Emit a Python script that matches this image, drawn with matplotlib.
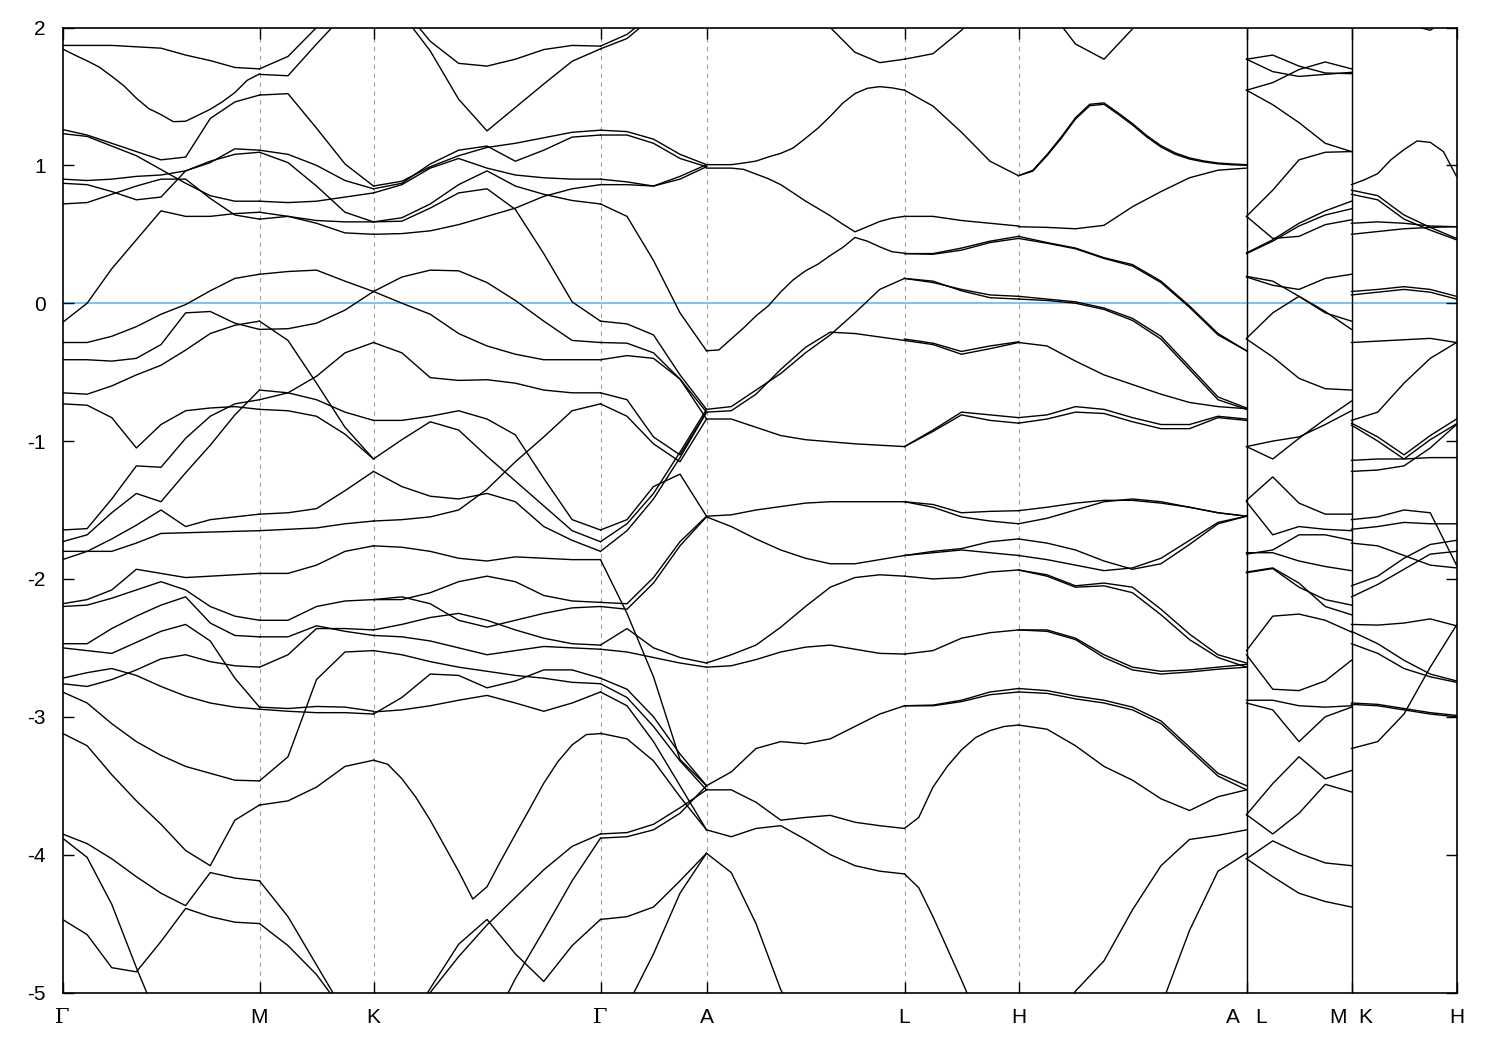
import numpy as np
import matplotlib
matplotlib.use("Agg")
import matplotlib.pyplot as plt

nan = np.nan

# high-symmetry points along the k-path (path distance units) and their labels
kpath = [0, 197, 311, 538, 644, 842, 956, 1184, 1289, 1394]
klabels = ["Γ", "M", "K", "Γ", "A", "L", "H", "A   L", "M  K", "H"]
breaks = [1184, 1289]   # discontinuities in the path

# band energies (eV), each band sampled evenly along its segment
gamma_m = [
    [1.87, 1.87, 1.87, 1.86, 1.85, 1.80, 1.76, 1.71, 1.70],
    [1.845, 1.80, 1.758, 1.712, 1.646, 1.576, 1.487, 1.412, 1.368,
     1.317, 1.32, 1.363, 1.407, 1.462, 1.528, 1.617, 1.663],
    [1.26, 1.22, 1.16, 1.10, 1.04, 1.06, 1.34, 1.46, 1.51],
    [1.23, 1.21, 1.14, 1.07, 0.97, 0.87, 0.78, 0.74, 0.74],
    [0.90, 0.89, 0.90, 0.92, 0.93, 0.96, 1.02, 1.12, 1.11],
    [0.87, 0.86, 0.81, 0.75, 0.77, 0.96, 1.03, 1.08, 1.095],
    [0.72, 0.73, 0.79, 0.85, 0.90, 0.90, 0.76, 0.64, 0.61],
    [-0.14, 0.00, 0.25, 0.46, 0.67, 0.63, 0.63, 0.65, 0.66],
    [-0.285, -0.285, -0.24, -0.17, -0.08, -0.01, 0.09, 0.18, 0.21],
    [-0.41, -0.41, -0.42, -0.40, -0.30, -0.07, -0.06, -0.145, -0.19],
    [-0.65, -0.66, -0.60, -0.52, -0.45, -0.34, -0.22, -0.16, -0.13],
    [-0.73, -0.74, -0.83, -1.05, -0.88, -0.78, -0.76, -0.75, -0.77],
    [-1.645, -1.635, -1.42, -1.18, -1.19, -0.98, -0.82, -0.73, -0.70],
    [-1.73, -1.68, -1.52, -1.38, -1.44, -1.23, -1.03, -0.81, -0.63],
    [-1.80, -1.80, -1.80, -1.74, -1.67, -1.665, -1.66, -1.655, -1.65],
    [-1.86, -1.80, -1.71, -1.61, -1.50, -1.62, -1.57, -1.55, -1.53],
    [-2.18, -2.15, -2.08, -1.93, -1.96, -1.99, -1.98, -1.97, -1.96],
    [-2.20, -2.19, -2.14, -2.08, -2.02, -2.08, -2.20, -2.27, -2.30],
    [-2.47, -2.47, -2.36, -2.27, -2.19, -2.13, -2.32, -2.41, -2.42],
    [-2.50, -2.52, -2.54, -2.46, -2.38, -2.33, -2.45, -2.72, -2.93],
    [-2.72, -2.68, -2.65, -2.70, -2.78, -2.85, -2.90, -2.93, -2.945],
    [-2.76, -2.78, -2.73, -2.66, -2.58, -2.55, -2.60, -2.63, -2.64],
    [-2.82, -2.90, -3.05, -3.18, -3.28, -3.36, -3.41, -3.46, -3.465],
    [-3.12, -3.21, -3.42, -3.61, -3.78, -3.97, -4.08, -3.75, -3.64],
    [-3.85, -3.92, -4.03, -4.16, -4.28, -4.37, -4.13, -4.17, -4.19],
    [-3.88, -4.02, -4.36, -4.82, -5.25, -5.6, nan, nan, nan],
    [-4.47, -4.58, -4.82, -4.85, -4.63, -4.39, -4.45, -4.49, -4.50],
]

m_k = [
    [1.70, 1.79, 2.00, 2.20, 2.35],
    [1.66, 1.65, 1.88, 2.10, 2.30],
    [1.51, 1.52, 1.27, 1.01, 0.85],
    [0.74, 0.73, 0.74, 0.77, 0.80],
    [1.11, 1.08, 1.00, 0.89, 0.83],
    [1.095, 1.02, 0.85, 0.66, 0.59],
    [0.61, 0.63, 0.58, 0.51, 0.50],
    [0.66, 0.63, 0.60, 0.59, 0.59],
    [0.21, 0.23, 0.24, 0.16, 0.085],
    [-0.19, -0.185, -0.145, -0.05, 0.085],
    [-0.13, -0.27, -0.58, -0.90, -1.13],
    [-0.77, -0.78, -0.82, -0.95, -1.13],
    [-0.70, -0.65, -0.53, -0.36, -0.285],
    [-0.63, -0.65, -0.70, -0.79, -0.85],
    [-1.65, -1.64, -1.63, -1.60, -1.58],
    [-1.53, -1.52, -1.49, -1.36, -1.22],
    [-1.96, -1.96, -1.90, -1.80, -1.76],
    [-2.30, -2.30, -2.20, -2.16, -2.15],
    [-2.42, -2.42, -2.34, -2.38, -2.41],
    [-2.64, -2.55, -2.36, -2.36, -2.37],
    [-2.93, -2.94, -2.925, -2.93, -2.96],
    [-2.945, -2.96, -2.97, -2.97, -2.98],
    [-3.465, -3.29, -2.73, -2.53, -2.52],
    [-3.64, -3.61, -3.51, -3.36, -3.315],
    [-4.19, -4.45, -4.80, -5.15, -5.6],
    [-4.50, -4.66, -4.87, -5.15, -5.6],
]

k_gamma = [
    [2.35, 2.15, 1.90, 1.74, 1.72, 1.77, 1.84, 1.87, 1.865],
    [2.30, 2.10, 1.83, 1.48, 1.25, 1.42, 1.59, 1.755, 1.845],
    [0.85, 0.885, 0.99, 1.07, 1.13, 1.16, 1.20, 1.24, 1.255],
    [0.83, 0.87, 1.01, 1.11, 1.14, 1.03, 1.11, 1.205, 1.22],
    [0.80, 0.86, 0.98, 1.05, 0.98, 0.93, 0.91, 0.90, 0.90],
    [0.59, 0.595, 0.69, 0.80, 0.83, 0.68, 0.36, 0.01, -0.13],
    [0.50, 0.505, 0.525, 0.57, 0.63, 0.69, 0.775, 0.83, 0.86],
    [0.59, 0.62, 0.72, 0.86, 0.96, 0.85, 0.79, 0.745, 0.72],
    [0.085, 0.19, 0.24, 0.235, 0.15, 0.02, -0.13, -0.27, -0.285],
    [0.085, 0.00, -0.08, -0.22, -0.31, -0.37, -0.41, -0.41, -0.41],
    [-0.285, -0.36, -0.54, -0.56, -0.555, -0.58, -0.63, -0.65, -0.65],
    [-0.85, -0.85, -0.82, -0.78, -0.84, -0.955, -1.27, -1.57, -1.645],
    [-1.13, -0.99, -0.86, -0.92, -1.11, -1.29, -1.47, -1.65, -1.73],
    [-1.22, -1.33, -1.40, -1.42, -1.38, -1.44, -1.62, -1.72, -1.80],
    [-1.58, -1.57, -1.55, -1.50, -1.35, -1.15, -0.97, -0.78, -0.73],
    [-1.76, -1.77, -1.80, -1.85, -1.87, -1.84, -1.85, -1.86, -1.86],
    [-2.15, -2.15, -2.10, -2.02, -1.98, -2.02, -2.12, -2.16, -2.17],
    [-2.15, -2.13, -2.18, -2.30, -2.35, -2.30, -2.25, -2.21, -2.20],
    [-2.37, -2.33, -2.28, -2.25, -2.30, -2.37, -2.43, -2.47, -2.48],
    [-2.41, -2.42, -2.45, -2.50, -2.55, -2.52, -2.49, -2.50, -2.51],
    [-2.52, -2.55, -2.60, -2.64, -2.67, -2.70, -2.72, -2.75, -2.76],
    [-2.965, -2.95, -2.92, -2.88, -2.845, -2.90, -2.96, -2.90, -2.82],
    [-2.98, -2.86, -2.69, -2.70, -2.79, -2.74, -2.66, -2.66, -2.72],
    [-3.315, -3.344, -3.449, -3.586, -3.751, -3.935, -4.121, -4.322, -4.233,
     -4.039, -3.853, -3.669, -3.482, -3.325, -3.204, -3.129, -3.122],
    [-5.6, -5.3, -4.97, -4.65, -4.47, -4.72, -4.92, -4.66, -4.47],
    [-5.6, -5.3, -5.00, -4.74, -4.51, -4.31, -4.11, -3.94, -3.85],
    [nan, nan, nan, nan, -5.3, -4.90, -4.55, -4.19, -3.88],
]

gamma_a = [
    [1.865, 1.95, 2.10, 2.30, 2.45],
    [1.845, 1.92, 2.08, 2.28, 2.43],
    [1.255, 1.245, 1.19, 1.08, 1.005],
    [1.22, 1.22, 1.16, 1.05, 0.99],
    [0.90, 0.88, 0.85, 0.90, 0.99],
    [0.86, 0.86, 0.85, 0.92, 1.005],
    [0.72, 0.63, 0.31, -0.07, -0.345],
    [-0.13, -0.15, -0.23, -0.52, -0.77],
    [-0.285, -0.29, -0.36, -0.55, -0.79],
    [-0.41, -0.38, -0.40, -0.55, -0.84],
    [-0.65, -0.70, -0.97, -1.10, -0.79],
    [-0.73, -0.82, -1.02, -1.15, -0.84],
    [-1.645, -1.57, -1.33, -1.24, -1.545],
    [-1.73, -1.60, -1.38, -1.08, -0.77],
    [-1.80, -1.65, -1.42, -1.12, -0.79],
    [-1.86, -2.25, -2.71, -3.31, -3.50],
    [-2.17, -2.18, -1.99, -1.73, -1.545],
    [-2.20, -2.22, -2.03, -1.76, -1.55],
    [-2.48, -2.36, -2.50, -2.57, -2.61],
    [-2.51, -2.53, -2.57, -2.61, -2.64],
    [-2.72, -2.80, -3.00, -3.27, -3.50],
    [-2.76, -2.86, -3.07, -3.32, -3.53],
    [-2.82, -2.92, -3.18, -3.50, -3.82],
    [-3.12, -3.16, -3.32, -3.58, -3.82],
    [-3.85, -3.84, -3.78, -3.66, -3.53],
    [-3.88, -3.87, -3.82, -3.70, -3.50],
    [-4.47, -4.45, -4.38, -4.19, -3.99],
    [-5.6, -5.1, -4.72, -4.28, -3.99],
]

a_l = [
    [2.45, 2.60, 2.60, 2.50, 2.30, 2.00, 1.82, 1.745, 1.77],
    [1.005, 1.005, 1.005, 1.017, 1.031, 1.061, 1.087, 1.126, 1.196,
     1.269, 1.356, 1.450, 1.521, 1.559, 1.571, 1.562, 1.545],
    [0.98, 0.98, 0.98, 0.971, 0.937, 0.903, 0.86, 0.801, 0.741,
     0.688, 0.634, 0.574, 0.518, 0.555, 0.593, 0.617, 0.63],
    [-0.345, -0.339, -0.259, -0.179, -0.092, -0.019, 0.082, 0.169, 0.235,
     0.283, 0.346, 0.404, 0.477, 0.45, 0.409, 0.373, 0.363],
    [-0.77, -0.75, -0.63, -0.51, -0.36, -0.23, -0.07, 0.10, 0.18],
    [-0.79, -0.78, -0.66, -0.48, -0.32, -0.21, -0.22, -0.245, -0.27],
    [-0.84, -0.84, -0.90, -0.96, -0.99, -1.005, -1.02, -1.03, -1.04],
    [-1.545, -1.535, -1.50, -1.475, -1.45, -1.44, -1.44, -1.44, -1.44],
    [-1.55, -1.62, -1.71, -1.79, -1.85, -1.89, -1.89, -1.86, -1.83],
    [-2.61, -2.55, -2.48, -2.35, -2.20, -2.06, -1.99, -1.97, -1.98],
    [-2.64, -2.63, -2.585, -2.53, -2.495, -2.48, -2.51, -2.54, -2.545],
    [-3.50, -3.40, -3.23, -3.18, -3.195, -3.16, -3.07, -2.98, -2.92],
    [-3.53, -3.53, -3.62, -3.75, -3.73, -3.715, -3.765, -3.79, -3.81],
    [-3.82, -3.87, -3.81, -3.79, -3.89, -4.00, -4.08, -4.12, -4.14],
    [-3.99, -4.13, -4.50, -4.98, -5.3, -5.6, nan, nan, nan],
]

l_h = [
    [1.77, 1.81, 1.98, 2.20, 2.40],
    [1.545, 1.43, 1.24, 1.03, 0.925],
    [0.63, 0.63, 0.60, 0.58, 0.56],
    [0.36, 0.36, 0.40, 0.45, 0.485],
    [0.36, 0.355, 0.385, 0.44, 0.47],
    [0.18, 0.15, 0.10, 0.06, 0.05],
    [0.18, 0.16, 0.09, 0.04, 0.03],
    [-0.27, -0.30, -0.37, -0.33, -0.285],
    [-0.26, -0.29, -0.35, -0.31, -0.28],
    [-1.04, -0.92, -0.79, -0.81, -0.83],
    [-1.04, -0.93, -0.81, -0.85, -0.87],
    [-1.44, -1.46, -1.52, -1.51, -1.505],
    [-1.44, -1.48, -1.55, -1.58, -1.60],
    [-1.83, -1.80, -1.78, -1.73, -1.71],
    [-1.83, -1.81, -1.79, -1.81, -1.83],
    [-1.98, -2.00, -1.99, -1.95, -1.935],
    [-2.545, -2.52, -2.43, -2.39, -2.37],
    [-2.92, -2.915, -2.88, -2.82, -2.795],
    [-2.92, -2.92, -2.89, -2.84, -2.82],
    [-3.81, -3.73, -3.51, -3.36, -3.24, -3.15, -3.10, -3.07, -3.06],
    [-4.14, -4.24, -4.45, -4.68, -4.91, -5.15, -5.4, -5.6, -5.8],
]

h_a = [
    [2.40, 2.15, 1.88, 1.77, 1.99, 2.30, 2.50, 2.60, 2.60],
    [0.925, 0.964, 1.078, 1.206, 1.346, 1.443, 1.453, 1.38, 1.303,
     1.216, 1.143, 1.09, 1.054, 1.032, 1.017, 1.01, 1.005],
    [0.925, 0.958, 1.07, 1.196, 1.336, 1.433, 1.443, 1.37, 1.293,
     1.206, 1.133, 1.08, 1.046, 1.025, 1.011, 1.004, 1.00],
    [0.555, 0.55, 0.54, 0.565, 0.70, 0.81, 0.91, 0.965, 0.98],
    [0.485, 0.44, 0.40, 0.33, 0.28, 0.16, -0.02, -0.22, -0.345],
    [0.47, 0.435, 0.395, 0.325, 0.27, 0.15, -0.03, -0.23, -0.345],
    [0.05, 0.03, 0.01, -0.035, -0.11, -0.24, -0.46, -0.68, -0.76],
    [0.03, 0.02, 0.00, -0.045, -0.125, -0.26, -0.48, -0.70, -0.77],
    [-0.285, -0.31, -0.42, -0.52, -0.59, -0.66, -0.72, -0.75, -0.765],
    [-0.83, -0.81, -0.75, -0.77, -0.83, -0.88, -0.88, -0.82, -0.84],
    [-0.87, -0.84, -0.79, -0.80, -0.86, -0.91, -0.91, -0.83, -0.85],
    [-1.505, -1.48, -1.45, -1.43, -1.43, -1.45, -1.48, -1.52, -1.545],
    [-1.60, -1.56, -1.50, -1.44, -1.42, -1.44, -1.48, -1.52, -1.545],
    [-1.71, -1.74, -1.79, -1.87, -1.93, -1.89, -1.75, -1.60, -1.545],
    [-1.83, -1.86, -1.90, -1.94, -1.92, -1.85, -1.72, -1.59, -1.545],
    [-1.935, -1.97, -2.05, -2.03, -2.06, -2.22, -2.40, -2.55, -2.61],
    [-1.935, -1.98, -2.06, -2.05, -2.10, -2.26, -2.44, -2.57, -2.64],
    [-2.37, -2.37, -2.43, -2.55, -2.64, -2.67, -2.66, -2.64, -2.62],
    [-2.37, -2.38, -2.44, -2.57, -2.66, -2.69, -2.675, -2.655, -2.64],
    [-2.795, -2.81, -2.85, -2.88, -2.93, -3.03, -3.22, -3.41, -3.50],
    [-2.82, -2.83, -2.87, -2.90, -2.95, -3.05, -3.24, -3.43, -3.53],
    [-3.06, -3.09, -3.21, -3.36, -3.46, -3.595, -3.68, -3.58, -3.53],
    [-5.6, -5.3, -4.99, -4.77, -4.40, -4.08, -3.89, -3.86, -3.82],
    [nan, nan, nan, nan, -5.6, -5.1, -4.55, -4.12, -3.99],
]

l_m = [
    [1.77, 1.80, 1.72, 1.67, 1.665],
    [1.77, 1.68, 1.645, 1.66, 1.675],
    [1.545, 1.60, 1.695, 1.75, 1.70],
    [1.545, 1.44, 1.31, 1.16, 1.10],
    [0.63, 0.82, 1.04, 1.095, 1.10],
    [0.63, 0.47, 0.485, 0.57, 0.605],
    [0.365, 0.46, 0.58, 0.67, 0.74],
    [0.36, 0.45, 0.56, 0.64, 0.685],
    [0.195, 0.16, 0.05, -0.07, -0.13],
    [0.19, 0.13, 0.10, 0.18, 0.21],
    [-0.255, -0.07, 0.05, -0.06, -0.19],
    [-0.26, -0.39, -0.545, -0.62, -0.63],
    [-1.04, -1.13, -0.98, -0.84, -0.71],
    [-1.04, -1.00, -0.97, -0.88, -0.78],
    [-1.43, -1.26, -1.45, -1.53, -1.53],
    [-1.44, -1.68, -1.62, -1.64, -1.65],
    [-1.82, -1.79, -1.68, -1.68, -1.72],
    [-1.81, -1.81, -1.87, -1.91, -1.94],
    [-1.955, -1.925, -2.06, -2.15, -2.19],
    [-1.95, -1.92, -2.03, -2.20, -2.26],
    [-2.52, -2.27, -2.255, -2.30, -2.385],
    [-2.55, -2.80, -2.81, -2.74, -2.59],
    [-2.88, -2.88, -2.92, -2.93, -2.92],
    [-2.90, -2.95, -3.18, -3.00, -2.93],
    [-3.71, -3.485, -3.29, -3.45, -3.39],
    [-3.71, -3.85, -3.70, -3.49, -3.545],
    [-4.03, -3.90, -3.99, -4.06, -4.08],
    [-4.03, -4.16, -4.28, -4.34, -4.38],
]

k_h = [
    [2.40, 2.20, 2.03, 1.98, 2.10],
    [0.86, 0.896, 0.94, 1.04, 1.114, 1.177, 1.167, 1.10, 0.92],
    [0.82, 0.78, 0.64, 0.55, 0.47],
    [0.79, 0.75, 0.61, 0.53, 0.46],
    [0.58, 0.59, 0.58, 0.56, 0.555],
    [0.50, 0.52, 0.54, 0.55, 0.555],
    [0.085, 0.10, 0.12, 0.10, 0.05],
    [0.06, 0.08, 0.10, 0.08, 0.03],
    [-0.285, -0.275, -0.265, -0.255, -0.285],
    [-0.85, -0.79, -0.58, -0.40, -0.285],
    [-0.87, -0.97, -1.10, -0.96, -0.84],
    [-0.885, -1.00, -1.13, -0.99, -0.875],
    [-1.14, -1.13, -1.13, -1.12, -1.12],
    [-1.22, -1.21, -1.18, -1.05, -0.88],
    [-1.57, -1.55, -1.50, -1.52, -1.90],
    [-1.64, -1.62, -1.59, -1.60, -1.60],
    [-1.74, -1.76, -1.83, -1.90, -1.92],
    [-2.05, -1.98, -1.85, -1.75, -1.72],
    [-2.13, -2.04, -1.93, -1.82, -1.80],
    [-2.33, -2.335, -2.32, -2.29, -2.34],
    [-2.38, -2.47, -2.59, -2.69, -2.74],
    [-2.47, -2.54, -2.65, -2.71, -2.75],
    [-2.90, -2.91, -2.94, -2.97, -2.99],
    [-2.91, -2.92, -2.95, -2.98, -3.00],
    [-3.23, -3.18, -2.98, -2.64, -2.335],
]

segments = [gamma_m, m_k, k_gamma, gamma_a, a_l, l_h, h_a, l_m, k_h]

plt.rcParams['font.family'] = ['Liberation Sans', 'DejaVu Sans']
plt.rcParams['axes.unicode_minus'] = False

fig = plt.figure(figsize=(15, 10.5), dpi=100)
ax = fig.add_axes([62.5 / 1500, 1 - 992.5 / 1050, 1394 / 1500, 965 / 1050])

# dashed guides at high-symmetry points, Fermi level
for kx in kpath[1:-1]:
    ax.axvline(kx, color='#a0a0a0', lw=0.8, ls=(0, (4, 4)), zorder=1)
ax.axhline(0, color='#56b4e9', lw=1.1, zorder=1)

for i, seg in enumerate(segments):
    for band in seg:
        k = np.linspace(kpath[i], kpath[i + 1], len(band))
        ax.plot(k, band, color='black', lw=1.0, zorder=2)

for kx in breaks:
    ax.axvline(kx, color='black', lw=1.0, zorder=3)

ax.set_xlim(kpath[0], kpath[-1])
ax.set_ylim(-5, 2)
ax.set_yticks(np.arange(-5, 3, 1))
ax.set_xticks(kpath)
ax.set_xticklabels(klabels)
for lab in ax.get_xticklabels():
    if lab.get_text() == "Γ":
        lab.set_family(['DejaVu Serif'])

ax.tick_params(axis='both', direction='in', length=8, width=1.0,
               top=True, right=True, labelsize=15, colors='black')
ax.tick_params(axis='x', pad=11)
ax.tick_params(axis='y', pad=12)
for sp in ax.spines.values():
    sp.set_linewidth(1.2)

fig.savefig('out.png', dpi=100)
